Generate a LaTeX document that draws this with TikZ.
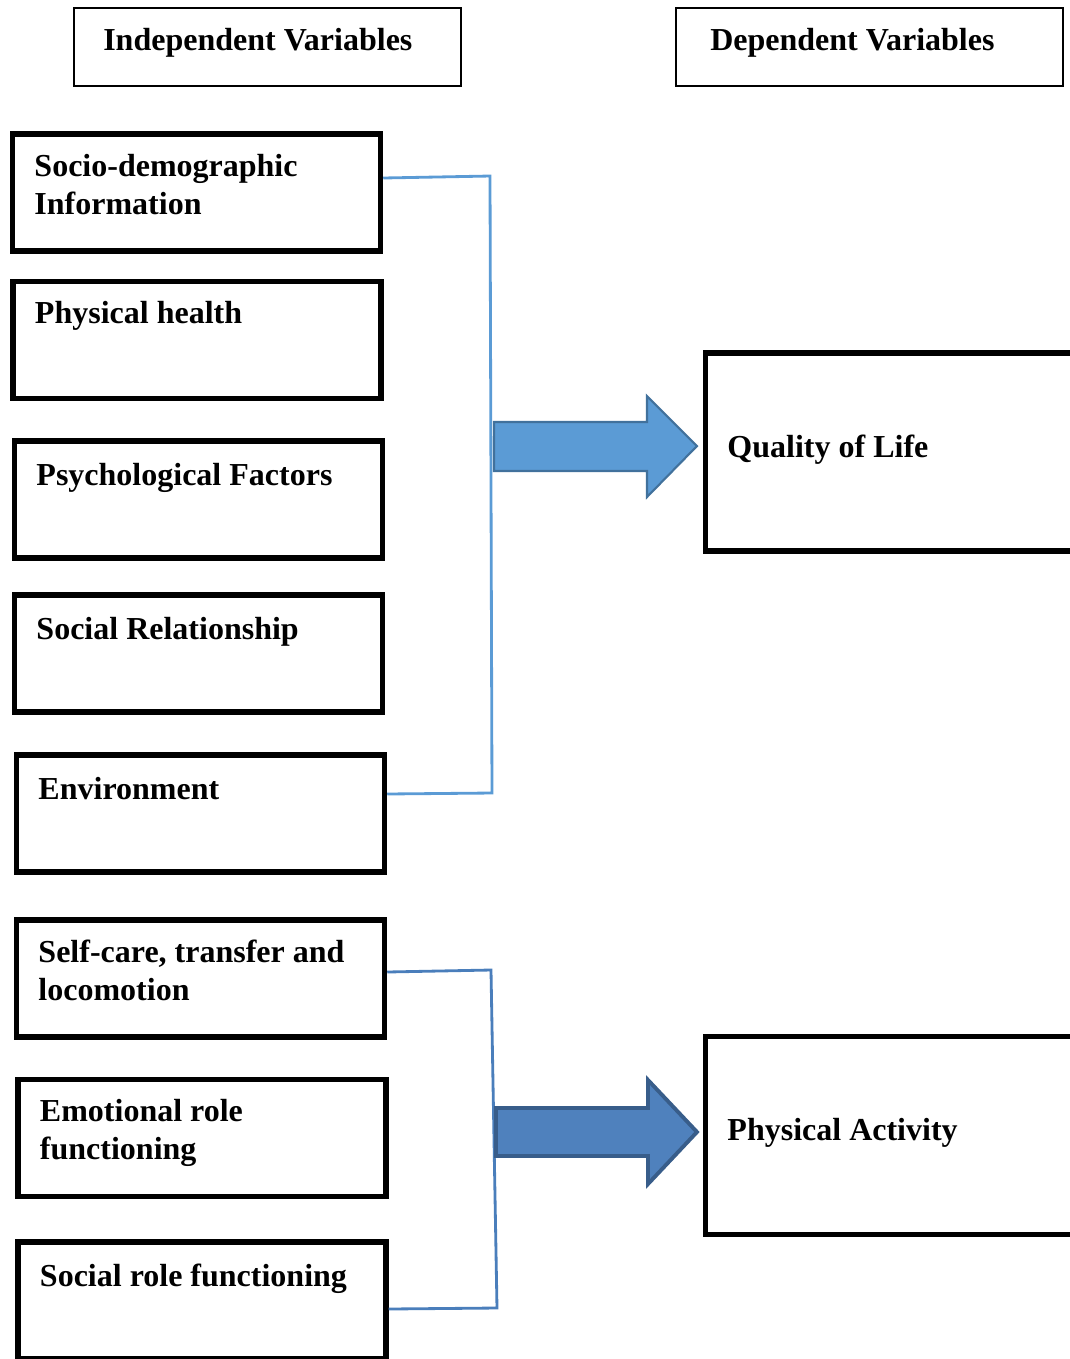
\documentclass[tikz,border=0pt]{standalone}
\usepackage{fontspec}
\setmainfont{Liberation Serif}
\usepackage{tikz}
\usetikzlibrary{shapes}

\definecolor{lineblue}{HTML}{5B9BD5}
\definecolor{lineblue2}{HTML}{4A7EBB}
\definecolor{arrfill}{HTML}{5B9BD5}
\definecolor{arrdraw}{HTML}{41719C}
\definecolor{arrfill2}{HTML}{4F81BD}
\definecolor{arrdraw2}{HTML}{385D8A}

\tikzset{
  varbox/.style={shape=rectangle,draw=black,line width=1.5pt,minimum width=3.68cm,minimum height=1.17cm,inner sep=0pt},
  headbox/.style={shape=rectangle,draw=black,line width=0.75pt,minimum width=3.87cm,minimum height=0.78cm,inner sep=0pt},
  depbox/.style={shape=rectangle,draw=black,line width=1.5pt,minimum width=3.8cm,minimum height=1.98cm,inner sep=0pt},
  lbl/.style={anchor=north west,inner sep=0pt,align=left,xshift=0.24cm,yshift=-0.22cm,font=\bfseries\fontsize{9.1}{10.8}\selectfont},
  hlbl/.style={lbl,xshift=0.06cm,yshift=0.01cm},
  bracket/.style={draw=lineblue,line width=0.8pt},
}

\begin{document}
\begin{tikzpicture}[x=0.01cm,y=-0.01cm]
\useasboundingbox (0,0) rectangle (1070,1359);

\node[headbox,label={[hlbl]north west:Independent Variables}] (iv) at (267.5,47) {};
\node[headbox,label={[hlbl,xshift=0.05cm]north west:Dependent Variables}] (dv) at (869.5,47) {};

\node[varbox,label={[lbl]north west:Socio-demographic\\Information}] (sd) at (196.5,192.5) {};
\node[varbox,label={[lbl]north west:Physical health}] (ph) at (197,340) {};
\node[varbox,label={[lbl,yshift=-0.02cm]north west:Psychological Factors}] (pf) at (198.5,499.5) {};
\node[varbox,label={[lbl,yshift=-0.02cm]north west:Social Relationship}] (sr) at (198.5,653.5) {};
\node[varbox,label={[lbl,yshift=-0.02cm]north west:Environment}] (env) at (200.5,813.5) {};
\node[varbox,label={[lbl]north west:{Self-care, transfer and\\locomotion}}] (sc) at (200.5,978.5) {};
\node[varbox,label={[lbl]north west:Emotional role\\functioning}] (er) at (202,1138) {};
\node[varbox,label={[lbl,yshift=-0.02cm]north west:Social role functioning}] (srf) at (202,1300.5) {};

\node[depbox,label={[lbl,yshift=-0.62cm]north west:Quality of Life}] (qol) at (895.5,452) {};
\node[depbox,label={[lbl,yshift=-0.62cm]north west:Physical Activity}] (pa) at (895.5,1135.5) {};

% brackets
\coordinate (b1top) at (490,176);
\coordinate (b1bot) at (492,793);
\coordinate (b2top) at (491,970);
\coordinate (b2bot) at (497,1308);
\path [bracket] ([yshift=0.145cm]sd.east) -- (b1top) -- (b1bot) -- ([yshift=0.195cm]env.east);
\path [bracket,draw=lineblue2] ([yshift=0.065cm]sc.east) -- (b2top) -- (b2bot) -- ([yshift=-0.085cm]srf.east);

% block arrows
\path [fill=arrfill,draw=arrdraw,line width=0.6pt,line join=miter]
  (494,422) -- (647,422) -- (647,396) -- (697,446) -- (647,497) -- (647,471) -- (494,471) -- cycle;
\path [fill=arrfill2,draw=arrdraw2,line width=1.1pt,line join=miter]
  (496,1108) -- (648,1108) -- (648,1080) -- (697,1132) -- (648,1184) -- (648,1156) -- (496,1156) -- cycle;
\end{tikzpicture}
\end{document}
